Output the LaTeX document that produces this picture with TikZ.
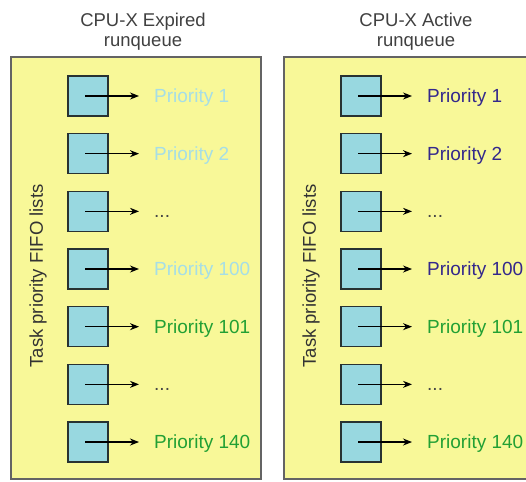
\documentclass[tikz,border=0pt]{standalone}
\usepackage{fontspec}
\setmainfont{Liberation Sans}
\usetikzlibrary{arrows.meta}
\definecolor{panelfill}{RGB}{248,248,152}
\definecolor{panelline}{RGB}{100,100,100}
\definecolor{cellfill}{RGB}{152,216,224}
\definecolor{cellline}{RGB}{40,50,50}
\definecolor{lightprio}{RGB}{166,222,230}
\definecolor{darkprio}{RGB}{52,40,140}
\definecolor{greenprio}{RGB}{34,160,52}
\definecolor{dotcol}{RGB}{70,70,70}
\newcommand\tdots{...}
\begin{document}
\begin{tikzpicture}[x=1pt,y=-1pt,
 panel/.style={draw=panelline,fill=panelfill,line width=1.6pt},
 cell/.style={draw=cellline,fill=cellfill,line width=1.3pt,minimum size=40pt,inner sep=0pt,outer sep=0pt},
 lab/.style={font=\fontsize{19}{22}\selectfont,inner sep=0pt,anchor=base west},
 title/.style={font=\fontsize{18.5}{22}\selectfont,inner sep=0pt,anchor=base,text=black!75},
 side/.style={font=\fontsize{18.5}{22}\selectfont,rotate=90,inner sep=0pt,text=black!80},
 arr/.style={-{Stealth[length=9pt,width=7pt]},line width=1.2pt}
]
\useasboundingbox (0,0) rectangle (526,481);
\clip (0,0) rectangle (526,481);
% panels
\draw[panel] (11,57) rectangle (261,479);
\draw[panel] (284,57) rectangle (545,479);
% titles
\node[title] (et1) at (143,27) {CPU-X Expired};
\node[title] (et2) at (143,47) {runqueue};
\node[title] (at1) at (416,27) {CPU-X Active};
\node[title] (at2) at (416,47) {runqueue};
% side labels
\node[side] (es) at (38,276) {Task priority FIFO lists};
\node[side] (as) at (311,276) {Task priority FIFO lists};
% expired rows
\foreach \i/\txt/\col in {0/Priority 1/lightprio,1/Priority 2/lightprio,2/\tdots/dotcol,3/Priority 100/lightprio,4/Priority 101/greenprio,5/\tdots/dotcol,6/Priority 140/greenprio}{
 \node[cell] (eb\i) at (88,96+57.67*\i) {};
 \node[lab,text=\col] (el\i) at (154,102.5+57.67*\i) {\txt};
 \coordinate (ee\i) at ([xshift=-15pt]eb\i.center -| el\i.west);
 \draw[arr] ([xshift=-3pt]eb\i.center) -- (ee\i);
}
% active rows
\foreach \i/\txt/\col in {0/Priority 1/darkprio,1/Priority 2/darkprio,2/\tdots/dotcol,3/Priority 100/darkprio,4/Priority 101/greenprio,5/\tdots/dotcol,6/Priority 140/greenprio}{
 \node[cell] (ab\i) at (361,96+57.67*\i) {};
 \node[lab,text=\col] (al\i) at (427,102.5+57.67*\i) {\txt};
 \coordinate (ae\i) at ([xshift=-15pt]ab\i.center -| al\i.west);
 \draw[arr] ([xshift=-3pt]ab\i.center) -- (ae\i);
}
\end{tikzpicture}
\end{document}
